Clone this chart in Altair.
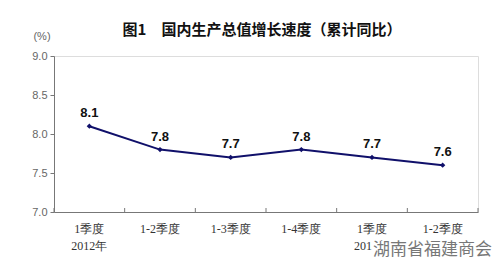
import altair as alt
import pandas as pd

categories = ["1季度", "1-2季度", "1-3季度", "1-4季度", "1季度", "1-2季度"]
year_labels = ["2012年", "", "", "", "2013年", ""]
values = [8.1, 7.8, 7.7, 7.8, 7.7, 7.6]
value_labels = ["8.1", "7.8", "7.7", "7.8", "7.7", "7.6"]
y_ticks = [7.0, 7.5, 8.0, 8.5, 9.0]

pos = [i + 0.5 for i in range(len(categories))]
df = pd.DataFrame({"pos": pos, "cat": categories, "year": year_labels,
                   "val": values, "lab": value_labels})

W, H = 424, 156
LINE = "#10106a"

xs = alt.Scale(domain=[0, 6], nice=False, zero=False)
ys = alt.Scale(domain=[7.0, 9.0], nice=False, zero=False)

x_axis = alt.Axis(values=list(range(7)), labels=False, ticks=False, title=None, grid=False,
                  domainColor="#777", orient="bottom")
y_axis = alt.Axis(values=y_ticks, format=".1f", title=None, grid=False,
                  tickSize=4, domainColor="#777", tickColor="#777",
                  labelColor="#666", labelFont="Liberation Sans", labelFontSize=11,
                  labelPadding=3, labelOverlap=False, labelFlush=False)

X = alt.X("pos:Q", scale=xs, axis=x_axis)
Y = alt.Y("val:Q", scale=ys, axis=y_axis)

base = alt.Chart(df)

line = base.mark_line(color=LINE, strokeWidth=2).encode(x=X, y=Y)
pts = base.mark_point(shape="diamond", filled=True, color=LINE, size=28, opacity=1).encode(x=X, y=Y)
labels = base.mark_text(dy=-13, font="Liberation Sans", fontSize=13, fontWeight="bold",
                        color="#111").encode(x=X, y=Y, text="lab:N")
cat_text = base.mark_text(font="Liberation Serif", fontSize=12, color="#333",
                          baseline="middle").encode(x=X, y=alt.value(H + 17), text="cat:N")
year_text = base.mark_text(font="Liberation Serif", fontSize=12, color="#333",
                           baseline="middle").encode(x=X, y=alt.value(H + 34), text="year:N")

# inward x ticks at category boundaries
xtick_df = pd.DataFrame({"t": list(range(7))})
xticks = alt.Chart(xtick_df).mark_rule(color="#777").encode(
    x=alt.X("t:Q", scale=xs, axis=x_axis), y=alt.value(H - 4), y2=alt.value(H))

title_df = pd.DataFrame({"t": ["图1　国内生产总值增长速度（累计同比）"]})
title = alt.Chart(title_df).mark_text(font="Noto Sans CJK SC", fontSize=15,
                                      fontWeight="bold", color="#111",
                                      baseline="middle").encode(
    x=alt.value(208), y=alt.value(-26), text="t:N")
unit_df = pd.DataFrame({"t": ["(%)"]})
unit = alt.Chart(unit_df).mark_text(font="Liberation Sans", fontSize=11, color="#666",
                                    baseline="middle").encode(
    x=alt.value(-12), y=alt.value(-19), text="t:N")

wm_df = pd.DataFrame({"t": ["湖南省福建商会"]})
wm_bg = alt.Chart(wm_df).mark_rect(color="white").encode(
    x=alt.value(318), x2=alt.value(446), y=alt.value(H + 29), y2=alt.value(H + 48))
wm = alt.Chart(wm_df).mark_text(font="Noto Sans CJK SC", fontSize=17, color="#777",
                                align="left", baseline="middle").encode(
    x=alt.value(319), y=alt.value(H + 38), text="t:N")

chart = alt.layer(line, xticks, pts, labels, cat_text, year_text, title, unit, wm_bg, wm).properties(
    width=W, height=H,
    autosize=alt.AutoSizeParams(type="none"),
    padding={"left": 54, "top": 56, "right": 22, "bottom": 48},
).configure_view(stroke=None).configure(background="white")

chart.save("out.html", embed_options={"renderer": "svg", "actions": False})
